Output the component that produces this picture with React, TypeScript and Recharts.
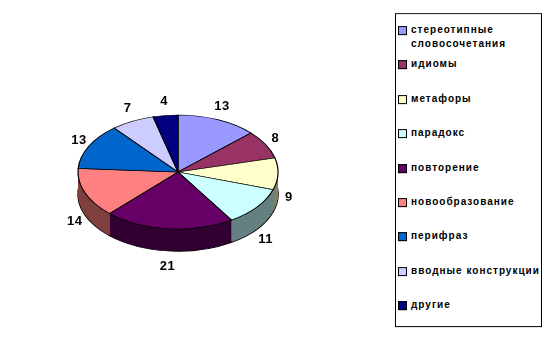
import { PieChart, Pie, Cell, Legend } from 'recharts'

const categories = [
  'стереотипные словосочетания',
  'идиомы',
  'метафоры',
  'парадокс',
  'повторение',
  'новообразование',
  'перифраз',
  'вводные конструкции',
  'другие',
]
const values = [13, 8, 9, 11, 21, 14, 13, 7, 4]
const topColors = ['#9999FF', '#993366', '#FFFFCC', '#CCFFFF', '#660066', '#FF8080', '#0066CC', '#CCCCFF', '#000080']
const sideColors = ['#4D4D80', '#4D1A33', '#808066', '#668080', '#330033', '#804040', '#003366', '#666680', '#000040']

const data = categories.map((name, i) => ({ name, value: values[i] }))

// 3d look: circle squashed by CSS, side built from stacked darker pies
const K = 0.57
const R = 100
const DEPTH = Math.round(22 / K)
const CX = 178
const CY = 172 / K
const layers = Array.from({ length: DEPTH }, (_, i) => DEPTH - i)

function renderLabel(p: any) {
  const rad = (p.midAngle * Math.PI) / 180
  const cos = Math.cos(rad)
  const sin = Math.sin(rad)
  const x = p.cx + 111 * cos
  const pageDy = -72 * sin + (sin < 0 ? 22 : 0)
  const y = p.cy + pageDy / K
  return (
    <text
      transform={`translate(${x},${y}) scale(1,${1 / K})`}
      textAnchor="middle"
      dominantBaseline="central"
      fontFamily="'Liberation Sans', Arial, sans-serif"
      fontSize={13}
      fontWeight="bold"
      letterSpacing={0.5}
      fill="#000"
    >
      {p.value}
    </text>
  )
}

function LegendBox() {
  return (
    <div
      style={{
        width: 147,
        height: 314,
        border: '1px solid #000',
        boxSizing: 'border-box',
        paddingTop: 9,
        fontFamily: "'Liberation Sans', Arial, sans-serif",
        fontSize: 10,
        fontWeight: 'bold',
        letterSpacing: 1,
        lineHeight: '14px',
        background: '#fff',
      }}
    >
      {categories.map((c, i) => (
        <div key={c} style={{ height: 34.4, display: 'flex', alignItems: 'flex-start' }}>
          <div
            style={{
              width: 7,
              height: 7,
              border: '1px solid #000',
              background: topColors[i],
              marginLeft: 2,
              marginTop: 3,
              marginRight: 4,
              flexShrink: 0,
            }}
          />
          <div style={{ width: 132, whiteSpace: 'normal' }}>{c}</div>
        </div>
      ))}
    </div>
  )
}

export default function App() {
  return (
    <div style={{ position: 'absolute', left: 0, top: 0, width: 552, height: 348, overflow: 'hidden', background: '#fff' }}>
      <div style={{ width: 552, height: Math.round(348 / K), transform: `scaleY(${K})`, transformOrigin: '0 0' }}>
        <PieChart width={552} height={Math.round(348 / K)} margin={{ top: 0, right: 0, bottom: 0, left: 0 }}>
          {layers.map((off) => (
            <Pie
              key={off}
              data={data}
              dataKey="value"
              cx={CX}
              cy={CY + off}
              outerRadius={R}
              startAngle={90}
              endAngle={-270}
              stroke={off === DEPTH ? '#000' : 'none'}
              strokeWidth={1.4}
              legendType="none"
              isAnimationActive={false}
            >
              {data.map((d, i) => (
                <Cell key={d.name} fill={sideColors[i]} />
              ))}
            </Pie>
          ))}
          <Pie
            data={data}
            dataKey="value"
            cx={CX}
            cy={CY}
            outerRadius={R}
            startAngle={90}
            endAngle={-270}
            stroke="#000"
            strokeWidth={1.2}
            label={renderLabel}
            labelLine={false}
            isAnimationActive={false}
          >
            {data.map((d, i) => (
              <Cell key={d.name} fill={topColors[i]} />
            ))}
          </Pie>
          <Legend
            layout="vertical"
            align="right"
            verticalAlign="middle"
            content={() => <LegendBox />}
            wrapperStyle={{
              left: 395,
              top: 13 / K,
              right: 'auto',
              width: 147,
              height: 314,
              transform: `scaleY(${1 / K})`,
              transformOrigin: '0 0',
            }}
          />
        </PieChart>
      </div>
    </div>
  )
}
